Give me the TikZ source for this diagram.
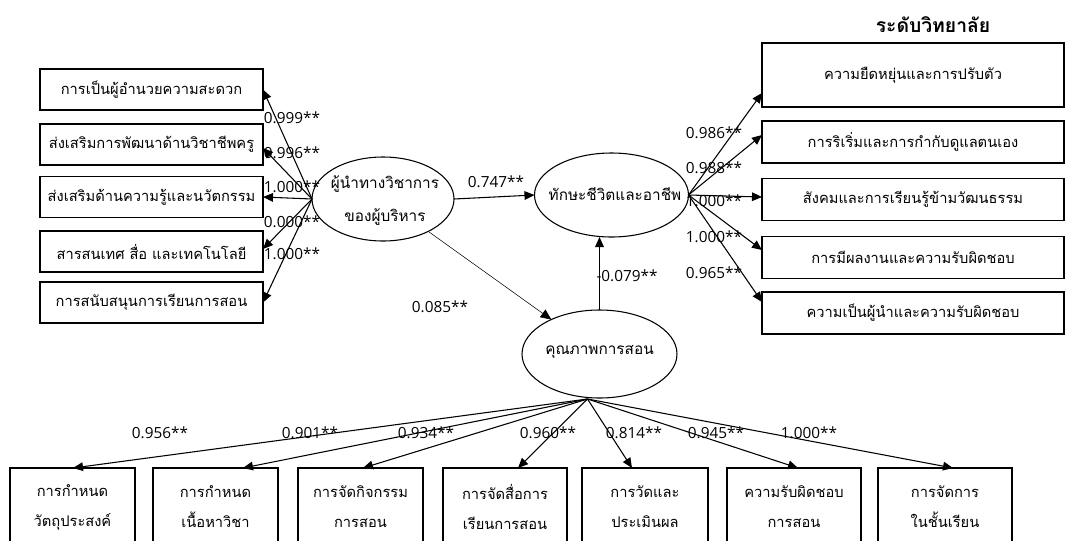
\documentclass[tikz,border=0pt]{standalone}
\usepackage{fontspec}
\setmainfont[Script=Thai]{Loma}
\newfontfamily\numfont{Open Sans}
\usetikzlibrary{shapes.geometric,arrows.meta,calc}
\begin{document}
\begin{tikzpicture}[x=0.75pt,y=-0.75pt,
  every node/.style={inner sep=0pt, outer sep=0pt},
  thai/.style={font=\fontsize{11}{13}\selectfont},
  lbox/.style={draw, line width=0.8pt, thai, minimum width=167.25pt, minimum height=30.75pt},
  rbox/.style={draw, line width=0.8pt, thai, minimum width=226.5pt, minimum height=31.5pt},
  bbox/.style={draw, line width=0.8pt, align=center, font=\fontsize{11}{22.5}\selectfont, minimum height=58.5pt, minimum width=#1},
  ell/.style={draw, ellipse, line width=0.8pt},
  elltext/.style={align=center, font=\fontsize{11.5}{24.75}\selectfont},
  arr/.style={-{Triangle[length=7.5pt,width=6.5pt]}, line width=0.8pt},
  thinarr/.style={-{Triangle[length=8pt,width=7pt]}, line width=0.4pt},
  lab/.style={font=\numfont\fontsize{11.5}{13}\selectfont},
  ttl/.style={font=\bfseries\fontsize{14.5}{17}\selectfont}
]
\useasboundingbox (0,0) rectangle (1065,540);
\clip (0,0) rectangle (1065,540);

% title
\node[ttl] (title) at (933,25) {ระดับวิทยาลัย};

% latent variables
\node[ell, minimum width=106.5pt, minimum height=63pt] (e1) at (383,199) {};
\node[elltext] (e1t) at (385,201) {ผู้นำทางวิชาการ\\ของผู้บริหาร};
\node[ell, minimum width=115.5pt, minimum height=63pt] (e2) at (611.5,195) {};
\node[elltext] (e2t) at (615,194) {ทักษะชีวิตและอาชีพ};
\node[ell, minimum width=116.25pt, minimum height=66pt] (e3) at (599.5,354) {};
\node[elltext] (e3t) at (599.5,352) {คุณภาพการสอน};

% left boxes
\node[lbox] (l1) at (151.5,89.5) {การเป็นผู้อำนวยความสะดวก};
\node[lbox] (l2) at (151.5,144.5) {ส่งเสริมการพัฒนาด้านวิชาชีพครู};
\node[lbox] (l3) at (151.5,197) {ส่งเสริมด้านความรู้และนวัตกรรม};
\node[lbox] (l4) at (151.5,251.5) {สารสนเทศ สื่อ และเทคโนโลยี};
\node[lbox] (l5) at (151.5,302.5) {การสนับสนุนการเรียนการสอน};

% right boxes
\node[rbox, minimum height=48pt] (r1) at (913,75) {ความยืดหยุ่นและการปรับตัว};
\node[rbox] (r2) at (913,142) {การริเริ่มและการกำกับดูแลตนเอง};
\node[rbox] (r3) at (913,199.5) {สังคมและการเรียนรู้ข้ามวัฒนธรรม};
\node[rbox] (r4) at (913,257.5) {การมีผลงานและความรับผิดชอบ};
\node[rbox] (r5) at (913,313) {ความเป็นผู้นำและความรับผิดชอบ};

% bottom boxes
\node[bbox=93.75pt] (b1) at (72.5,507) {การกำหนด\\วัตถุประสงค์};
\node[bbox=93.75pt] (b2) at (215.5,507) {การกำหนด\\เนื้อหาวิชา};
\node[bbox=93.75pt] (b3) at (360.5,507) {การจัดกิจกรรม\\การสอน};
\node[bbox=93pt] (b4) at (505,507) {การจัดสื่อการ\\เรียนการสอน};
\node[bbox=94.5pt] (b5) at (645,507) {การวัดและ\\ประเมินผล};
\node[bbox=100.5pt] (b6) at (794,507) {ความรับผิดชอบ\\การสอน};
\node[bbox=100.5pt] (b7) at (945,507) {การจัดการ\\ในชั้นเรียน};

% structural paths
\draw[arr] (e1.east) -- (e2.west);
\draw[thinarr] (e1) -- (e3);
\draw[arr] (e3.north) -- (e3.north |- e2.south);

% left loadings
\draw[arr] (e1.west) -- (l1.east);
\draw[arr] (e1.west) -- ($(l2.east)+(0,3.5)$);
\draw[arr] (e1.west) -- (l3.east);
\draw[arr] (e1.west) -- ($(l4.east)+(0,-2.5)$);
\draw[arr] (e1.west) -- (l5.east);

% right loadings
\draw[arr] (e2.east) -- ($(r1.west)+(0,18)$);
\draw[arr] (e2.east) -- ($(r2.west)+(0,-7)$);
\draw[arr] (e2.east) -- ($(r3.west)+(0,-2.5)$);
\draw[arr] (e2.east) -- ($(r4.west)+(0,-7.5)$);
\draw[arr] (e2.east) -- ($(r5.west)+(0,-11)$);

% bottom loadings
\coordinate (o3) at ($(e3.south)+(-12,1)$);
\draw[arr] (o3) -- ($(b1.north)+(0.5,0)$);
\draw[arr] (o3) -- ($(b2.north)+(27.5,0)$);
\draw[arr] (o3) -- ($(b3.north)+(2.5,0)$);
\draw[arr] (o3) -- ($(b4.north)+(13,0)$);
\draw[arr] (o3) -- ($(b5.north)+(-13,0)$);
\draw[arr] (o3) -- ($(b6.north)+(4,0)$);
\draw[arr] (o3) -- ($(b7.north)+(8,0)$);

% labels
\node[lab] (k1) at (496,182) {0.747**};
\node[lab] (k2) at (440,307) {0.085**};
\node[lab] (k3) at (627,276) {-0.079**};

\node[lab] (p1) at (292,118) {0.999**};
\node[lab] (p2) at (292,153) {0.996**};
\node[lab] (p3) at (292,187) {1.000**};
\node[lab] (p4) at (292,222) {0.000**};
\node[lab] (p5) at (292,254) {1.000**};

\node[lab] (q1) at (714,133) {0.986**};
\node[lab] (q2) at (714,168) {0.988**};
\node[lab] (q3) at (714,201) {1.000**};
\node[lab] (q4) at (714,237) {1.000**};
\node[lab] (q5) at (714,273) {0.965**};

\node[lab] (s1) at (160,433) {0.956**};
\node[lab] (s2) at (310,433) {0.901**};
\node[lab] (s3) at (426,433) {0.934**};
\node[lab] (s4) at (548,433) {0.960**};
\node[lab] (s5) at (634,433) {0.814**};
\node[lab] (s6) at (716,433) {0.945**};
\node[lab] (s7) at (809,433) {1.000**};
\end{tikzpicture}
\end{document}
